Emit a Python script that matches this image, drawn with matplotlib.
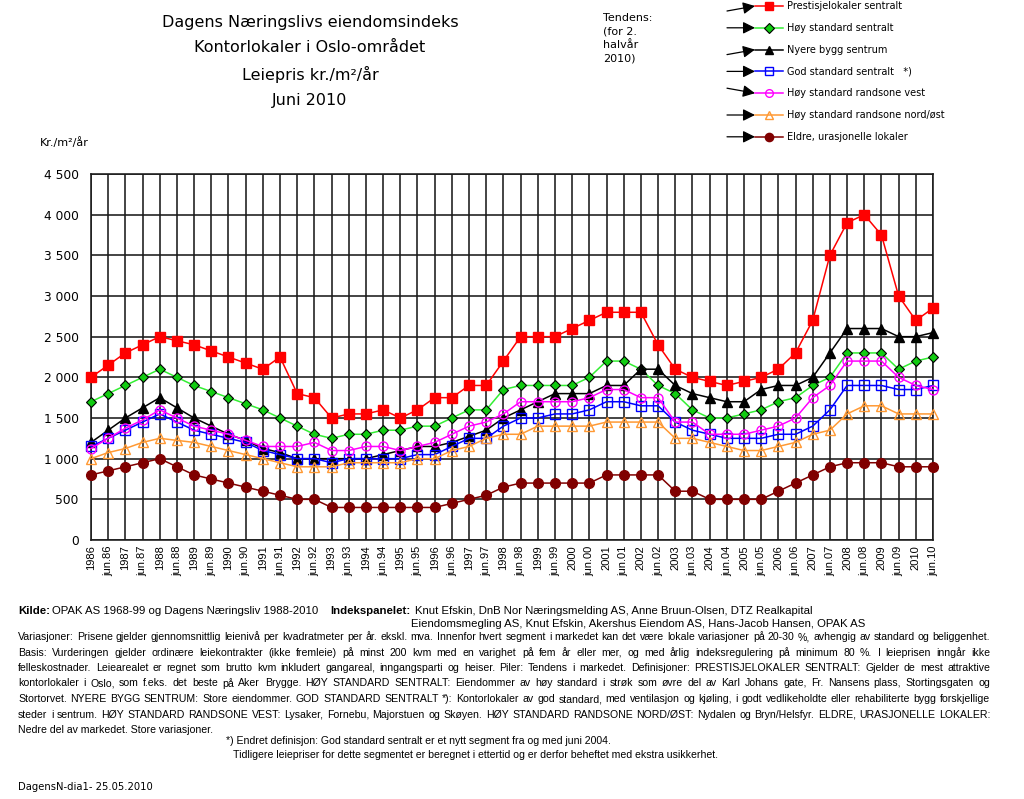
import matplotlib
matplotlib.use('Agg')
import matplotlib.pyplot as plt
from matplotlib import font_manager
from matplotlib.lines import Line2D
from matplotlib.patches import FancyArrowPatch
from matplotlib.ticker import FuncFormatter

# ── Data ───────────────────────────────────────────────────────────────────────
periods = ['1986', 'jun.86', '1987', 'jun.87', '1988', 'jun.88', '1989', 'jun.89',
           '1990', 'jun.90', '1991', 'jun.91', '1992', 'jun.92', '1993', 'jun.93',
           '1994', 'jun.94', '1995', 'jun.95', '1996', 'jun.96', '1997', 'jun.97',
           '1998', 'jun.98', '1999', 'jun.99', '2000', 'jun.00', '2001', 'jun.01',
           '2002', 'jun.02', '2003', 'jun.03', '2004', 'jun.04', '2005', 'jun.05',
           '2006', 'jun.06', '2007', 'jun.07', '2008', 'jun.08', '2009', 'jun.09',
           '2010', 'jun.10']

prestisje = [2000, 2150, 2300, 2400, 2500, 2450, 2400, 2325, 2250, 2175, 2100, 2250,
             1800, 1750, 1500, 1550, 1550, 1600, 1500, 1600, 1750, 1750, 1900, 1900,
             2200, 2500, 2500, 2500, 2600, 2700, 2800, 2800, 2800, 2400, 2100, 2000,
             1950, 1900, 1950, 2000, 2100, 2300, 2700, 3500, 3900, 4000, 3750, 3000,
             2700, 2850]
hoy_sentralt = [1700, 1800, 1900, 2000, 2100, 2000, 1900, 1825, 1750, 1675, 1600, 1500,
                1400, 1300, 1250, 1300, 1300, 1350, 1350, 1400, 1400, 1500, 1600, 1600,
                1850, 1900, 1900, 1900, 1900, 2000, 2200, 2200, 2100, 1900, 1800, 1600,
                1500, 1500, 1550, 1600, 1700, 1750, 1900, 2000, 2300, 2300, 2300, 2100,
                2200, 2250]
nyere_bygg = [1200, 1350, 1500, 1625, 1750, 1625, 1500, 1400, 1300, 1225, 1125, 1075,
              1000, 1000, 1000, 1000, 1000, 1050, 1100, 1150, 1150, 1200, 1275, 1350,
              1500, 1600, 1700, 1800, 1800, 1800, 1900, 1900, 2100, 2100, 1900, 1800,
              1750, 1700, 1700, 1850, 1900, 1900, 2000, 2300, 2600, 2600, 2600, 2500,
              2500, 2550]
god_standard = [1150, 1250, 1350, 1450, 1550, 1450, 1350, 1300, 1250, 1200, 1100, 1050,
                1000, 1000, 950, 1000, 1000, 1000, 1000, 1050, 1050, 1150, 1250, 1250,
                1400, 1500, 1500, 1550, 1550, 1600, 1700, 1700, 1650, 1650, 1450, 1350,
                1300, 1250, 1250, 1250, 1300, 1300, 1400, 1600, 1900, 1900, 1900, 1850,
                1850, 1900]
randsone_vest = [1125, 1250, 1375, 1475, 1600, 1500, 1400, 1350, 1300, 1225, 1150, 1150,
                 1150, 1200, 1100, 1100, 1150, 1150, 1100, 1150, 1200, 1300, 1400, 1450,
                 1550, 1700, 1700, 1700, 1700, 1750, 1850, 1850, 1750, 1750, 1450, 1450,
                 1300, 1300, 1300, 1350, 1400, 1500, 1750, 1900, 2200, 2200, 2200, 2000,
                 1900, 1850]
randsone_nord = [1000, 1075, 1125, 1200, 1250, 1225, 1200, 1150, 1100, 1050, 1000, 950,
                 900, 900, 900, 950, 950, 950, 950, 1000, 1000, 1100, 1150, 1250,
                 1300, 1300, 1400, 1400, 1400, 1400, 1450, 1450, 1450, 1450, 1250, 1250,
                 1200, 1150, 1100, 1100, 1150, 1200, 1300, 1350, 1550, 1650, 1650, 1550,
                 1550, 1550]
eldre = [800, 850, 900, 950, 1000, 900, 800, 750, 700, 650, 600, 550,
         500, 500, 400, 400, 400, 400, 400, 400, 400, 450, 500, 550,
         650, 700, 700, 700, 700, 700, 800, 800, 800, 800, 600, 600,
         500, 500, 500, 500, 600, 700, 800, 900, 950, 950, 950, 900,
         900, 900]

labels = ['Prestisjelokaler sentralt', 'Høy standard sentralt', 'Nyere bygg sentrum',
          'God standard sentralt   *)', 'Høy standard randsone vest',
          'Høy standard randsone nord/øst', 'Eldre, urasjonelle lokaler']
# tendens for 2. halvår 2010: +1 opp, 0 flat, -1 ned
tendens = [1, 0, 1, 0, -1, 0, 0]

# ── Styles ─────────────────────────────────────────────────────────────────────
styles = [
    dict(color='#FF0000', marker='s', ms=7, mfc='#FF0000', mec='#FF0000'),
    dict(color='#33EE33', marker='D', ms=5.5, mfc='#11CC11', mec='black', mew=0.8),
    dict(color='black', marker='^', ms=7, mfc='black', mec='black'),
    dict(color='#0000FF', marker='s', ms=6.5, mfc='none', mec='#0000FF', mew=1),
    dict(color='#FF00FF', marker='o', ms=6.5, mfc='none', mec='#FF00FF', mew=1),
    dict(color='#FF9933', marker='^', ms=7.5, mfc='none', mec='#FF9933', mew=1),
    dict(color='#800000', marker='o', ms=7, mfc='#800000', mec='#800000'),
]
series = [prestisje, hoy_sentralt, nyere_bygg, god_standard,
          randsone_vest, randsone_nord, eldre]

W, H = 1024, 799


def fx(px):
    return px / W


def fy(py):
    return 1 - py / H


names = {f.name for f in font_manager.fontManager.ttflist}
NARROW = 'Liberation Sans Narrow' if 'Liberation Sans Narrow' in names else 'Liberation Sans'

fig = plt.figure(figsize=(W / 100, H / 100), dpi=100)
ax = fig.add_axes([fx(91), fy(540), fx(933) - fx(91), fy(174) - fy(540)])

x = list(range(len(periods)))
for vals, st in zip(series, styles):
    ax.plot(x, vals, lw=1.1, clip_on=False, zorder=3, **st)

ax.set_xlim(0, len(periods) - 1)
ax.set_ylim(0, 4500)
ax.set_xticks(x)
ax.set_xticklabels(periods, rotation=90, fontsize=8, family='Liberation Sans')
ax.set_yticks(range(0, 4501, 500))
ax.yaxis.set_major_formatter(FuncFormatter(lambda v, p: f'{int(v):,}'.replace(',', ' ')))
ax.tick_params(axis='y', labelsize=8.8, length=0, pad=9)
ax.tick_params(axis='x', length=0, pad=4)
ax.grid(True, color='#1a1a1a', lw=1.15)
ax.set_axisbelow(True)
for s in ax.spines.values():
    s.set_color('#1a1a1a')
    s.set_linewidth(1.15)

# ── Titles ─────────────────────────────────────────────────────────────────────
title_lines = ['Dagens Næringslivs eiendomsindeks', 'Kontorlokaler i Oslo-området',
               'Leiepris kr./m²/år', 'Juni 2010']
for i, t in enumerate(title_lines):
    fig.text(fx(310), fy(22 + 26 * i), t, ha='center', va='center', fontsize=11.5)

fig.text(fx(603), fy(13), 'Tendens:\n(for 2.\nhalvår\n2010)', ha='left', va='top',
         fontsize=8, linespacing=1.45)
fig.text(fx(40), fy(143), 'Kr./m²/år', ha='left', va='center', fontsize=8)

# ── Legend with trend arrows ───────────────────────────────────────────────────
for i, (lab, st, tr) in enumerate(zip(labels, styles, tendens)):
    yc = 6 + 21.8 * i
    fig.add_artist(FancyArrowPatch((fx(727), fy(yc + 5 * tr)), (fx(755), fy(yc)),
                                   transform=fig.transFigure, arrowstyle='-|>',
                                   mutation_scale=18, color='black', lw=0.9,
                                   shrinkA=0, shrinkB=0))
    fig.add_artist(Line2D([fx(755), fx(783)], [fy(yc), fy(yc)], color=st['color'],
                          lw=1.1, transform=fig.transFigure))
    mst = {k: v for k, v in st.items() if k != 'color'}
    mst['ms'] = st['ms'] * 0.85
    fig.add_artist(Line2D([fx(769)], [fy(yc)], ls='none', transform=fig.transFigure, **mst))
    fig.text(fx(787), fy(yc), lab, ha='left', va='center', fontsize=7)

# ── Footer text ────────────────────────────────────────────────────────────────
renderer = fig.canvas.get_renderer()


def text_w(t):
    return t.get_window_extent(renderer).width


def word_widths(words, size):
    arts = [fig.text(0, 0, w, fontsize=size, family=NARROW) for w in words]
    ws = [text_w(a) for a in arts]
    for a in arts:
        a.remove()
    return ws


def put_justified(line, y, size, x0=18, x1=990):
    words = line.split()
    widths = word_widths(words, size)
    gap = (x1 - x0 - sum(widths)) / max(len(words) - 1, 1)
    pos = x0
    for w, wd in zip(words, widths):
        fig.text(fx(pos), fy(y), w, ha='left', va='center', fontsize=size, family=NARROW)
        pos += wd + gap


t1 = fig.text(fx(18), fy(611), 'Kilde:', ha='left', va='center', fontsize=8.2,
              family=NARROW, weight='bold')
fig.text(fx(18) + text_w(t1) / W + 0.002, fy(611),
         'OPAK AS 1968-99 og Dagens Næringsliv 1988-2010', ha='left', va='center',
         fontsize=8.2, family=NARROW)
fig.text(fx(330), fy(611), 'Indekspanelet:', ha='left', va='center', fontsize=8.2,
         family=NARROW, weight='bold')
fig.text(fx(415), fy(611), 'Knut Efskin, DnB Nor Næringsmelding AS, Anne Bruun-Olsen, DTZ Realkapital',
         ha='left', va='center', fontsize=8.2, family=NARROW)
fig.text(fx(411), fy(624), 'Eiendomsmegling AS, Knut Efskin, Akershus Eiendom AS, Hans-Jacob Hansen, OPAK AS',
         ha='left', va='center', fontsize=8.2, family=NARROW)

footer = [
    'Variasjoner: Prisene gjelder gjennomsnittlig leienivå per kvadratmeter per år. ekskl. mva. Innenfor hvert segment i markedet kan det være lokale variasjoner på 20-30 %, avhengig av standard og beliggenhet.',
    'Basis: Vurderingen gjelder ordinære leiekontrakter (ikke fremleie) på minst 200 kvm med en varighet på fem år eller mer, og med årlig indeksregulering på minimum 80 %. I leieprisen inngår ikke',
    'felleskostnader. Leiearealet er regnet som brutto kvm inkludert gangareal, inngangsparti og heiser. Piler: Tendens i markedet. Definisjoner: PRESTISJELOKALER SENTRALT: Gjelder de mest attraktive',
    'kontorlokaler i Oslo, som f.eks. det beste på Aker Brygge. HØY STANDARD SENTRALT: Eiendommer av høy standard i strøk som øvre del av Karl Johans gate, Fr. Nansens plass, Stortingsgaten og',
    'Stortorvet. NYERE BYGG SENTRUM: Store eiendommer. GOD STANDARD SENTRALT *): Kontorlokaler av god standard, med ventilasjon og kjøling, i godt vedlikeholdte eller rehabiliterte bygg forskjellige',
    'steder i sentrum. HØY STANDARD RANDSONE VEST: Lysaker, Fornebu, Majorstuen og Skøyen. HØY STANDARD RANDSONE NORD/ØST: Nydalen og Bryn/Helsfyr. ELDRE, URASJONELLE LOKALER:',
]

# one common size for the block: the largest that leaves a real gap in every line
foot_size = 8.6
while foot_size > 6:
    ok = True
    for line in footer:
        words = line.split()
        gap = (972 - sum(word_widths(words, foot_size))) / (len(words) - 1)
        if gap < 2.6:
            ok = False
            break
    if ok:
        break
    foot_size -= 0.05

for i, line in enumerate(footer):
    put_justified(line, 637 + 15.5 * i, foot_size)
fig.text(fx(18), fy(637 + 15.5 * 6), 'Nedre del av markedet. Store variasjoner.', ha='left',
         va='center', fontsize=foot_size, family=NARROW)

fig.text(fx(226), fy(741), '*) Endret definisjon: God standard sentralt er et nytt segment fra og med juni 2004.',
         ha='left', va='center', fontsize=7.6, family=NARROW)
fig.text(fx(233), fy(755), 'Tidligere leiepriser for dette segmentet er beregnet i ettertid og er derfor beheftet med ekstra usikkerhet.',
         ha='left', va='center', fontsize=7.6, family=NARROW)
fig.text(fx(18), fy(787), 'DagensN-dia1- 25.05.2010', ha='left', va='center', fontsize=7.2)

fig.savefig('out.png', dpi=100)
